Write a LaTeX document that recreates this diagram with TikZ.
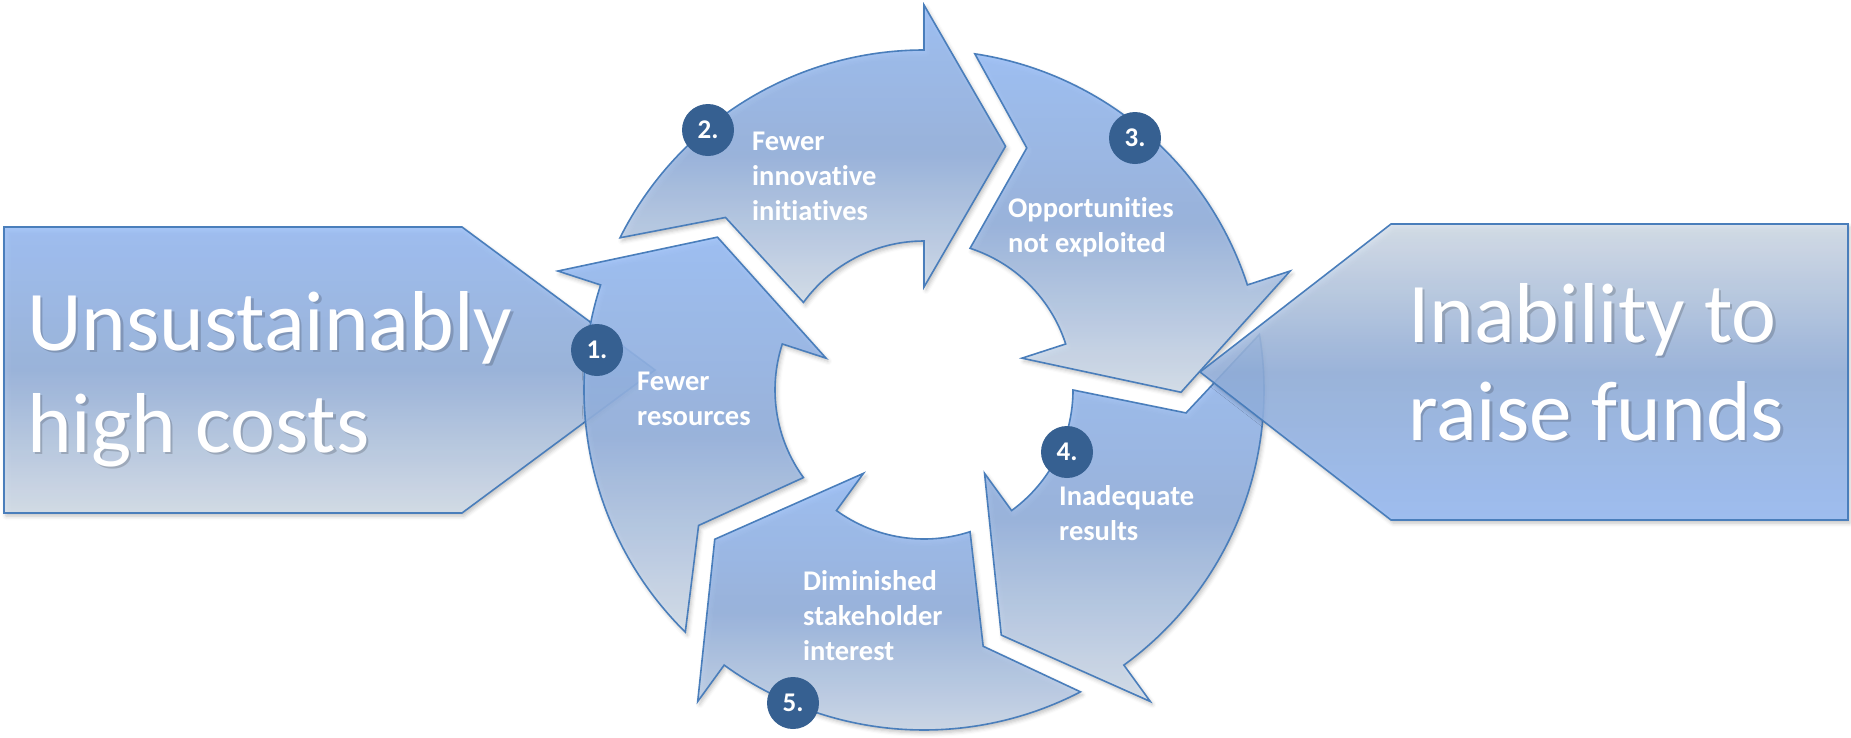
\documentclass[tikz,border=0pt]{standalone}
\usepackage{fontspec}
\setmainfont{Carlito}[Ligatures={NoCommon}]
\usetikzlibrary{shadows.blur}
\definecolor{bTop}{RGB}{153,190,248}
\definecolor{bMid}{RGB}{149,178,222}
\definecolor{bBot}{RGB}{214,224,236}
\definecolor{edgeblue}{RGB}{74,126,187}
\definecolor{badgeblue}{RGB}{54,96,145}
\tikzset{
  softshadow/.style={blur shadow={shadow xshift=2pt, shadow yshift=-3pt, shadow blur radius=4pt, shadow opacity=25}},
  cyclearrow/.style={draw=edgeblue, line width=1.6pt, line join=miter, top color=bTop, bottom color=bBot, middle color=bMid, fill opacity=0.88, softshadow},
  sidebox/.style={draw=edgeblue, line width=1.6pt, line join=miter, fill opacity=0.85, softshadow},
  badge/.style={circle, fill=badgeblue, minimum size=52pt, inner sep=0pt, text=white, font=\fontsize{27}{32}\selectfont\bfseries},
  steplabel/.style={anchor=base west, inner sep=0pt, text=white, font=\fontsize{28.5}{35}\selectfont\bfseries},
  bigtext/.style={anchor=base west, inner sep=0pt, text=white},
  bigtextshadow/.style={bigtext, text=black, text opacity=0.17}
}
\begin{document}
\begin{tikzpicture}[x=1pt,y=-1pt]
\useasboundingbox (0,0) rectangle (1851,737);
% left pentagon box
\draw[sidebox, top color=bTop, bottom color=bBot, middle color=bMid]
  (4,227) -- (462,227) -- (655,370) -- (462,513) -- (4,513) -- cycle;
% cycle arrows
\begin{scope}[shift={(924,390)}, y=1pt]
\foreach \b in {162,90,18,-54,-126} {
  \draw[cyclearrow]
    ({\b+63.4}:340) arc[start angle={\b+63.4}, end angle={\b}, radius=340]
    -- ({\b}:385) -- ({\b-18.5}:257) -- ({\b}:103) -- ({\b}:149)
    arc[start angle={\b}, end angle={\b+54}, radius=149]
    -- ({\b+49}:263) -- cycle;
}
\end{scope}
% right pentagon box
\draw[sidebox, top color=bBot, bottom color=bTop, middle color=bMid]
  (1848,224) -- (1391,224) -- (1200,372) -- (1391,520) -- (1848,520) -- cycle;
% big texts
\node[bigtextshadow] (lefts) at (29.5,352.5) {\fontsize{85}{102}\selectfont\begin{tabular}[t]{@{}l@{}}Unsustainably\\high costs\end{tabular}};
\node[bigtext] (lefttext) at (27,350) {\fontsize{85}{102}\selectfont\begin{tabular}[t]{@{}l@{}}Unsustainably\\high costs\end{tabular}};
\node[bigtextshadow] (rights) at (1410.5,344.5) {\fontsize{85}{98}\selectfont\begin{tabular}[t]{@{}l@{}}Inability to\\raise funds\end{tabular}};
\node[bigtext] (righttext) at (1408,342) {\fontsize{85}{98}\selectfont\begin{tabular}[t]{@{}l@{}}Inability to\\raise funds\end{tabular}};
% step labels
\node[steplabel] (l1) at (637,390) {\begin{tabular}[t]{@{}l@{}}Fewer\\resources\end{tabular}};
\node[steplabel] (l2) at (752,150) {\begin{tabular}[t]{@{}l@{}}Fewer\\innovative\\initiatives\end{tabular}};
\node[steplabel] (l3) at (1008,217) {\begin{tabular}[t]{@{}l@{}}Opportunities\\not exploited\end{tabular}};
\node[steplabel] (l4) at (1059,505) {\begin{tabular}[t]{@{}l@{}}Inadequate\\results\end{tabular}};
\node[steplabel] (l5) at (803,590) {\begin{tabular}[t]{@{}l@{}}Diminished\\stakeholder\\interest\end{tabular}};
% badges
\node[badge] (b1) at (597,350) {1.};
\node[badge] (b2) at (708,130) {2.};
\node[badge] (b3) at (1135,138) {3.};
\node[badge] (b4) at (1067,452) {4.};
\node[badge] (b5) at (793,703) {5.};
\end{tikzpicture}
\end{document}
